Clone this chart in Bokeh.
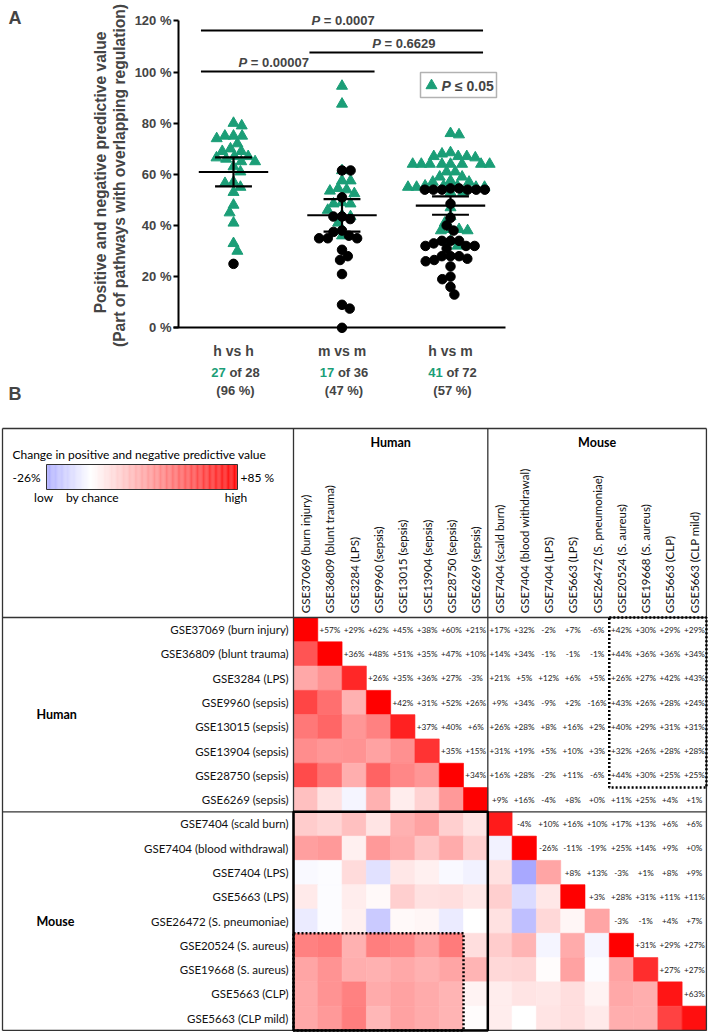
import math
import numpy as np
from bokeh.plotting import figure
from bokeh.models import (Range1d, FixedTicker, Label, BoxAnnotation, ColumnDataSource,
                          LinearColorMapper, LinearAxis)
from bokeh.core.properties import value
from bokeh.embed import file_html
from bokeh.resources import INLINE

GREEN = "#1b9e77"
FA = "Liberation Sans"
FB = "Lato"

# ---------------- Panel A data ----------------
groups = ["h vs h", "m vs m", "h vs m"]
hh_sig = [80, 79, 75, 74, 75, 75, 70, 72, 69, 69, 67, 67, 66.5, 66, 65, 65, 63, 61,
          56.5, 57, 55, 53, 48, 45, 41, 33, 30]
hh_ns = [25]
mm_sig = [94.5, 87.5, 61.5, 57.5, 57.5, 54.5, 54, 53.5, 52.5, 49, 48.5, 48.5, 46, 44,
          43.5, 41, 36]
mm_ns = [61.5, 61.5, 51, 43.5, 43.5, 42.5, 38, 37.5, 36, 35, 35, 35, 30.5, 28, 26.5,
         21, 9, 7.5, 0]
hm_sig = [76, 75.5, 68.5, 68, 67, 67, 67, 66.5, 64, 64, 64, 64, 64, 64, 64, 64, 61, 61,
          59, 59, 57.5, 57, 57, 55.5, 55.5, 55.5, 55, 55, 55, 55, 53, 53, 47, 43.5, 41,
          38.5, 38, 38, 38.5, 34, 32]
hm_ns = [54, 54, 54, 54, 54, 54, 54.5, 54.5, 48.5, 43, 40, 38, 34, 33, 32, 32, 31, 32,
         34, 34, 28, 28, 26.5, 24, 26, 27, 28, 20, 19, 16, 13]
means = [60.9, 44.0, 47.8]
ci_hi = [66.6, 50.3, 51.4]
ci_lo = [55.3, 37.6, 44.2]
n_sig = [27, 17, 41]
n_tot = [28, 36, 72]
n_pct = [96, 47, 57]
comp_a = [0, 1, 0]
comp_b = [2, 2, 1]
comp_p = ["0.0007", "0.6629", "0.00007"]
y_ticks = [0, 20, 40, 60, 80, 100, 120]

# ---------------- Panel B data ----------------
datasets = ["GSE37069 (burn injury)", "GSE36809 (blunt trauma)", "GSE3284 (LPS)",
            "GSE9960 (sepsis)", "GSE13015 (sepsis)", "GSE13904 (sepsis)",
            "GSE28750 (sepsis)", "GSE6269 (sepsis)", "GSE7404 (scald burn)",
            "GSE7404 (blood withdrawal)", "GSE7404 (LPS)", "GSE5663 (LPS)",
            "GSE26472 (S. pneumoniae)", "GSE20524 (S. aureus)", "GSE19668 (S. aureus)",
            "GSE5663 (CLP)", "GSE5663 (CLP mild)"]
species = ["Human", "Mouse"]
n_human = 8
upper = [
    [57, 29, 62, 45, 38, 60, 21, 17, 32, -2, 7, -6, 42, 30, 29, 29],
    [36, 48, 51, 35, 47, 10, 14, 34, -1, -1, -1, 44, 36, 36, 34],
    [26, 35, 36, 27, -3, 21, 5, 12, 6, 5, 26, 27, 42, 43],
    [42, 31, 52, 26, 9, 34, -9, 2, -16, 43, 26, 28, 24],
    [37, 40, 6, 26, 28, 8, 16, 2, 40, 29, 31, 31],
    [35, 15, 31, 19, 5, 10, 3, 32, 26, 28, 28],
    [34, 16, 28, -2, 11, -6, 44, 30, 25, 25],
    [9, 16, -4, 8, 0, 11, 25, 4, 1],
    [-4, 10, 16, 10, 17, 13, 6, 6],
    [-26, -11, -19, 25, 14, 9, 0],
    [8, 13, -3, 1, 8, 9],
    [3, 28, 31, 11, 11],
    [-3, -1, 4, 7],
    [31, 29, 27],
    [27, 27],
    [63],
]
diagonal = [85, 85, 72, 85, 74, 68, 85, 85, 76, 85, 30, 85, 30, 85, 70, 78, 80]
scale_low, scale_high = -26, 85

# ================= one canvas, two coordinate systems =================
PXX, PXY = 108.5, 2.558
W, H = 708, 1032


def ax(rx):  # canvas pixel -> panel A data x
    return 1 + (rx - 233) / PXX


def ay(ry):  # canvas pixel -> panel A data y
    return (327.3 - ry) / PXY


C = 24.29


def gx(rx):  # canvas pixel -> panel B grid units
    return (rx - 293) / C


def gy(ry):
    return (ry - 617) / C


p = figure(width=W, height=H, x_range=Range1d(ax(0), ax(W)), y_range=Range1d(ay(H), ay(0)),
           x_axis_type=None, y_axis_type=None, min_border=0, output_backend="svg",
           toolbar_location=None)
p.outline_line_color = None
p.extra_x_ranges = {"b": Range1d(gx(0), gx(W))}
p.extra_y_ranges = {"b": Range1d(gy(H), gy(0))}

# ---------- Panel A ----------
yax = LinearAxis(fixed_location=ax(178), ticker=FixedTicker(ticks=y_ticks), bounds=(0, 120))
yax.major_label_overrides = {t: f"{t} %" for t in y_ticks}
yax.axis_line_width = 2
yax.major_tick_line_width = 2
yax.major_tick_out = 5
yax.major_tick_in = 0
yax.minor_tick_line_color = None
yax.major_label_text_font = FA
yax.major_label_text_font_style = "bold"
yax.major_label_text_font_size = "13px"
yax.major_label_standoff = 2
p.add_layout(yax, "left")

xax = LinearAxis(fixed_location=0, ticker=FixedTicker(ticks=[1, 2, 3]), bounds=(ax(173), ax(505)))
xax.major_label_overrides = {i + 1: g for i, g in enumerate(groups)}
xax.axis_line_width = 2
xax.major_tick_line_color = None
xax.minor_tick_line_color = None
xax.major_label_text_font = FA
xax.major_label_text_font_style = "bold"
xax.major_label_text_font_size = "14px"
xax.major_label_standoff = 9
p.add_layout(xax, "below")


def swarm(vals, d=8.6):
    order = sorted(range(len(vals)), key=lambda i: -vals[i])
    placed, xs = [], [0.0] * len(vals)
    flip = 1
    for i in order:
        y = vals[i] * PXY
        iv = []
        for px, py in placed:
            dy = abs(y - py)
            if dy < d:
                h = math.sqrt(d * d - dy * dy)
                iv.append((px - h, px + h))
        cands = [0.0] + [a for a, b in iv] + [b for a, b in iv]
        cands.sort(key=lambda c: (round(abs(c), 6), -flip * c))
        x = 0.0
        for c in cands:
            if all(not (a + 1e-6 < c < b - 1e-6) for a, b in iv):
                x = c
                break
        if x != 0:
            flip = -flip
        placed.append((x, y))
        xs[i] = x / PXX
    return xs


tri_x, tri_y, cir_x, cir_y = [], [], [], []
for gi, (s, n) in enumerate([(hh_sig, hh_ns), (mm_sig, mm_ns), (hm_sig, hm_ns)]):
    for v, o in zip(s, swarm(s)):
        tri_x.append(gi + 1 + o); tri_y.append(v)
    for v, o in zip(n, swarm(n)):
        cir_x.append(gi + 1 + o); cir_y.append(v)

p.scatter(tri_x, tri_y, marker="triangle", size=11, color=GREEN)
p.scatter(cir_x, cir_y, marker="circle", size=9.5, color="black")

cats = [1, 2, 3]
p.segment([c - 0.32 for c in cats], means, [c + 0.32 for c in cats], means,
          line_color="black", line_width=2.2)
p.segment(cats, ci_lo, cats, ci_hi, line_color="black", line_width=2.2)
p.segment([c - 0.17 for c in cats], ci_hi, [c + 0.17 for c in cats], ci_hi,
          line_color="black", line_width=2.2)
p.segment([c - 0.17 for c in cats], ci_lo, [c + 0.17 for c in cats], ci_lo,
          line_color="black", line_width=2.2)

# significance bars
bar_y = [116.2, 107.6, 100.2]
txt_y = [120.0, 111.3, 103.6]
txt_x = [2.01, 2.57, 1.37]
p.segment([cats[a] - 0.3 for a in comp_a], bar_y, [cats[b] + 0.3 for b in comp_b], bar_y,
          line_color="black", line_width=2)
CW = {"P": 0.667, " ": 0.278, "=": 0.584, ".": 0.278}
for k in range(3):
    fs = 13
    rest = "= " + comp_p[k]
    w_rest = sum(CW.get(ch, 0.556) for ch in rest) * fs
    w_p = CW["P"] * fs
    w_sp = CW[" "] * fs
    left = -(w_p + w_sp + w_rest) / 2
    p.add_layout(Label(x=txt_x[k], y=txt_y[k], text="P", text_font=FA, text_font_style="bold italic",
                       text_font_size=f"{fs}px", text_align="left", text_baseline="middle",
                       x_offset=left))
    p.add_layout(Label(x=txt_x[k], y=txt_y[k], text=rest, text_font=FA, text_font_style="bold",
                       text_font_size=f"{fs}px", text_align="left", text_baseline="middle",
                       x_offset=left + w_p + w_sp))

# legend box
p.add_layout(BoxAnnotation(left=ax(420), right=ax(496), top=ay(72), bottom=ay(97),
                           fill_color="white", fill_alpha=1.0, line_color="black", line_width=1.5))
p.scatter([ax(431)], [ay(85)], marker="triangle", size=11, color=GREEN, level="overlay")
p.add_layout(Label(x=ax(441), y=ay(85), text="P", text_font=FA, text_font_style="bold italic",
                   text_font_size="14px", text_align="left", text_baseline="middle"))
p.add_layout(Label(x=ax(441), y=ay(85), text="\u2264 0.05", text_font=FA, text_font_style="bold",
                   text_font_size="14px", text_align="left", text_baseline="middle", x_offset=13.5))

# y-axis title (two lines)
p.add_layout(Label(x=ax(100), y=ay(172), text="Positive and negative predictive value",
                   text_font=FA, text_font_style="bold", text_font_size="15.6px", angle=math.pi / 2,
                   text_align="center", text_baseline="middle"))
p.add_layout(Label(x=ax(119), y=ay(175), text="(Part of pathways with overlapping regulation)",
                   text_font=FA, text_font_style="bold", text_font_size="15.6px", angle=math.pi / 2,
                   text_align="center", text_baseline="middle"))

# counts under categories
for gi in range(3):
    p.add_layout(Label(x=cats[gi], y=ay(372), text=str(n_sig[gi]), text_font=FA, text_font_style="bold",
                       text_font_size="13px", text_color=GREEN, text_align="right",
                       text_baseline="middle", x_offset=-7.7))
    p.add_layout(Label(x=cats[gi], y=ay(372), text=f"of {n_tot[gi]}", text_font=FA,
                       text_font_style="bold", text_font_size="13px", text_align="left",
                       text_baseline="middle", x_offset=-4.1))
    p.add_layout(Label(x=cats[gi], y=ay(390), text=f"({n_pct[gi]} %)", text_font=FA,
                       text_font_style="bold", text_font_size="13px", text_align="center",
                       text_baseline="middle", x_offset=2))

p.add_layout(Label(x=ax(8), y=ay(17), text="A", text_font=FA, text_font_style="bold",
                   text_font_size="18px", text_align="left", text_baseline="middle"))
p.add_layout(Label(x=ax(8), y=ay(393), text="B", text_font=FA, text_font_style="bold",
                   text_font_size="18px", text_align="left", text_baseline="middle"))

# ---------- Panel B ----------
N = len(datasets)
M = np.zeros((N, N))
for i in range(N):
    M[i, i] = diagonal[i]
    for k, v in enumerate(upper[i] if i < len(upper) else []):
        j = i + 1 + k
        M[i, j] = v
        M[j, i] = v


def mix(c0, c1, t):
    return "#%02x%02x%02x" % tuple(int(round(a + (b - a) * t)) for a, b in zip(c0, c1))


BLUE = (168, 168, 255)
WHITE = (255, 255, 255)
RED = (255, 0, 0)
palette = []
nsteps = 444
for k in range(nsteps):
    v = scale_low + (k + 0.5) * (scale_high - scale_low) / nsteps
    if v < 0:
        palette.append(mix(WHITE, BLUE, v / scale_low))
    else:
        palette.append(mix(WHITE, RED, v / scale_high))
mapper = LinearColorMapper(palette=palette, low=scale_low, high=scale_high)

B_ = dict(x_range_name="b", y_range_name="b")

cx, cy, cv, tx, ty, tt = [], [], [], [], [], []
for i in range(N):
    for j in range(N):
        if j <= i:
            cx.append(j + 0.5); cy.append(i + 0.5); cv.append(M[i, j])
        else:
            tx.append(j + 0.5); ty.append(i + 0.5); tt.append(f"{int(M[i, j]):+d}%")

src = ColumnDataSource(dict(x=cx, y=cy, v=cv))
p.rect(x="x", y="y", width=1, height=1, source=src,
       fill_color={"field": "v", "transform": mapper},
       line_color={"field": "v", "transform": mapper}, line_width=0.6, **B_)
p.text(tx, ty, text=tt, text_font=value(FB), text_font_size="8.2px", text_align="center",
       text_baseline="middle", text_color="#222222", **B_)

# row labels & column headers
p.text([-0.2] * N, [i + 0.5 for i in range(N)], text=datasets, text_font=value(FB),
       text_font_size="11.5px", text_align="right", text_baseline="middle", text_color="#111111", **B_)
p.text([j + 0.5 for j in range(N)], [-0.18] * N, text=datasets, text_font=value(FB),
       text_font_size="11.5px", text_align="left", text_baseline="middle", angle=math.pi / 2,
       text_color="#111111", **B_)

# group labels
p.text([n_human / 2, (n_human + N) / 2], [gy(442)] * 2, text=species, text_font=value(FB),
       text_font_style="bold", text_font_size="12.5px", text_align="center", text_baseline="middle", **B_)
p.text([gx(36)] * 2, [n_human / 2, (n_human + N) / 2], text=species, text_font=value(FB),
       text_font_style="bold", text_font_size="12.5px", text_align="left", text_baseline="middle", **B_)

# colour legend
bx0, bx1, by0, by1 = gx(46), gx(237), gy(464), gy(489)
nb = 222
vals_bar = [scale_low + (k + 0.5) * (scale_high - scale_low) / nb for k in range(nb)]
bw = (bx1 - bx0) / nb
bar_src = ColumnDataSource(dict(x=[bx0 + (k + 0.5) * bw for k in range(nb)],
                                y=[(by0 + by1) / 2] * nb, v=vals_bar))
p.rect(x="x", y="y", width=bw * 1.1, height=by1 - by0, source=bar_src,
       fill_color={"field": "v", "transform": mapper}, line_color=None, **B_)
p.rect(x=[(bx0 + bx1) / 2], y=[(by0 + by1) / 2], width=bx1 - bx0, height=by1 - by0,
       fill_alpha=0, line_color="#333333", line_width=1, **B_)


def bar_pos(v):
    return bx0 + (v - scale_low) / (scale_high - scale_low) * (bx1 - bx0)


p.text([gx(12)], [gy(454)], text=["Change in positive and negative predictive value"],
       text_font=value(FB), text_font_size="12px", text_align="left", text_baseline="middle", **B_)
p.text([gx(12), gx(240)], [gy(477)] * 2, text=[f"{scale_low}%", f"+{scale_high} %"],
       text_font=value(FB), text_font_size="12px", text_align="left", text_baseline="middle", **B_)
p.text([bar_pos(scale_low) - 0.12, bar_pos(0) + 0.05, bar_pos(scale_high) - 0.06], [gy(497)] * 3,
       text=["low", "by chance", "high"], text_font=value(FB), text_font_size="12px",
       text_align="center", text_baseline="middle", **B_)

# table lines
L, T, R, Bt = gx(2), gy(428), float(N), float(N)
thin = "#333333"
p.segment([L, L, L, R, 0, n_human, L, L], [T, Bt, T, T, T, T, 0, n_human],
          [R, R, L, R, 0, n_human, R, R], [T, Bt, Bt, Bt, Bt, Bt, 0, n_human],
          line_color=thin, line_width=1.3, **B_)
p.rect(x=[n_human / 2], y=[(n_human + N) / 2], width=n_human, height=N - n_human,
       fill_alpha=0, line_color="black", line_width=2.5, **B_)
p.rect(x=[(13 + N) / 2, 3.5], y=[3.5, (13 + N) / 2], width=[N - 13, 7], height=[7, N - 13],
       fill_alpha=0, line_color="black", line_width=2.5, line_dash="2 2", **B_)

open("out.html", "w").write(file_html(p, INLINE))
